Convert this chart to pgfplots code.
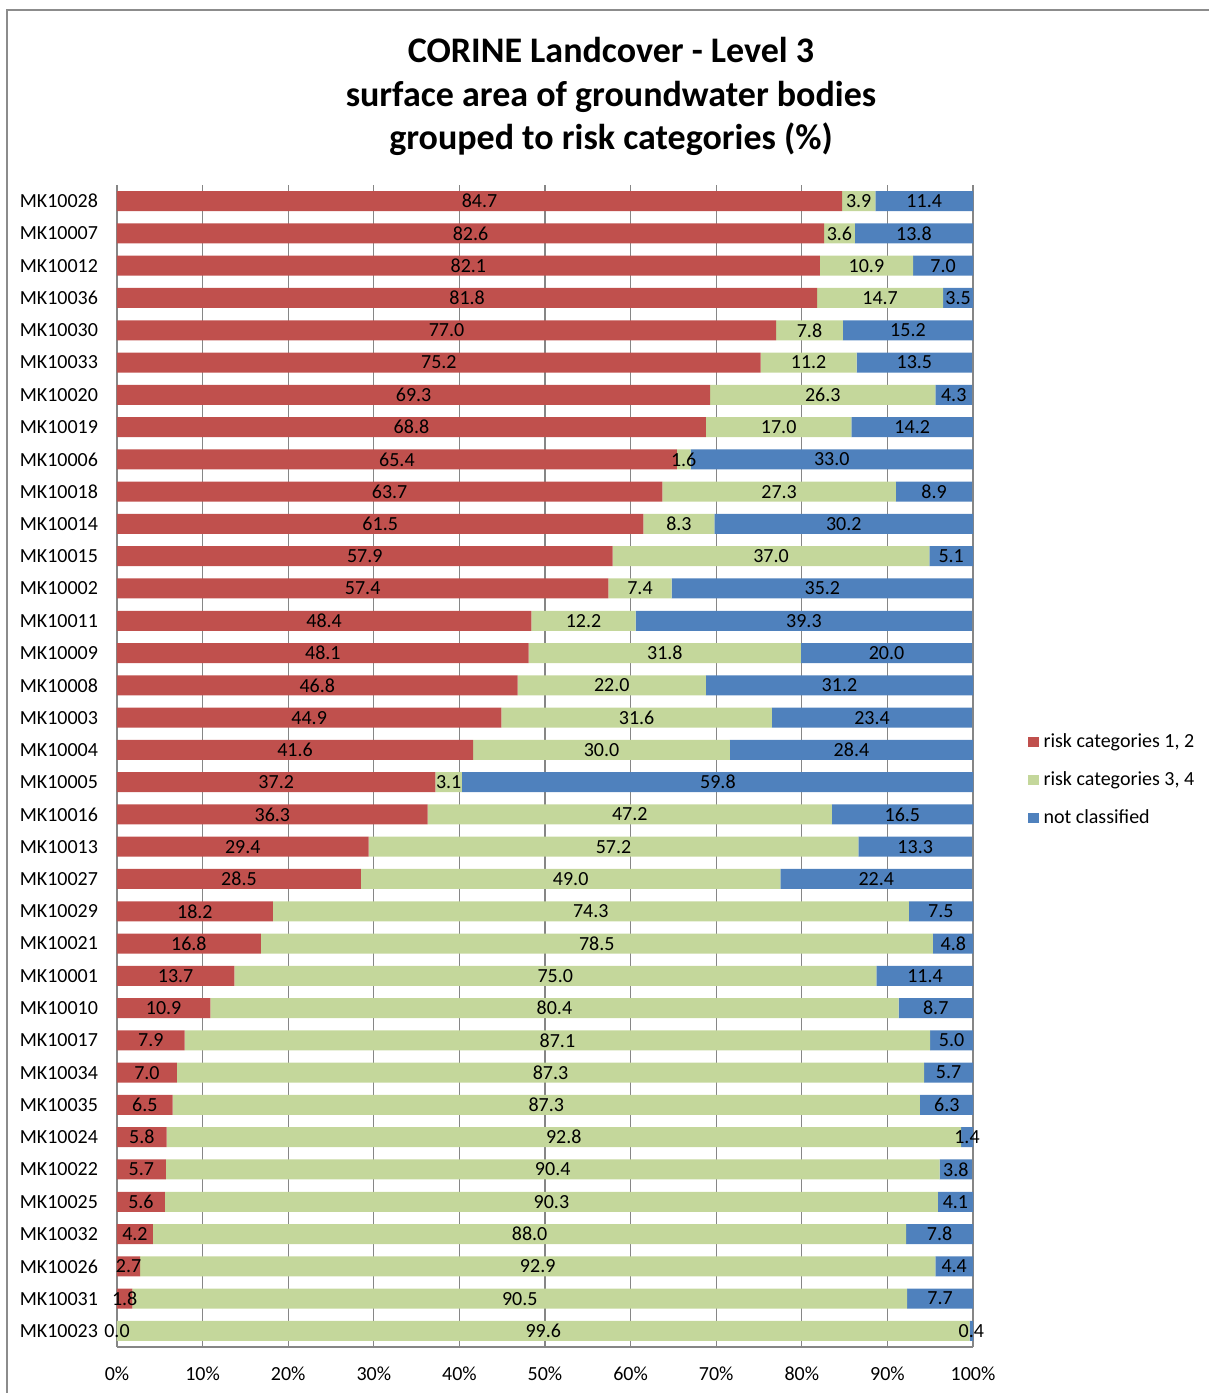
\documentclass[border=0pt]{standalone}
\usepackage{fontspec}
\setmainfont{Carlito}
\usepackage{pgfplots}
\usepackage{pgfplotstable}
\pgfplotsset{compat=1.18}

\definecolor{riskA}{HTML}{C0504D}
\definecolor{riskB}{HTML}{C4D79B}
\definecolor{unclass}{HTML}{4F81BD}
\definecolor{gridgrey}{HTML}{868686}
\definecolor{framegrey}{HTML}{8C8C8C}

% share of each groundwater body (%): r = risk cat. 1,2; g = risk cat. 3,4; b = not classified
\pgfplotstableread{
name    r     g     b
MK10028 84.7  3.9  11.4
MK10007 82.6  3.6  13.8
MK10012 82.1 10.9   7.0
MK10036 81.8 14.7   3.5
MK10030 77.0  7.8  15.2
MK10033 75.2 11.2  13.5
MK10020 69.3 26.3   4.3
MK10019 68.8 17.0  14.2
MK10006 65.4  1.6  33.0
MK10018 63.7 27.3   8.9
MK10014 61.5  8.3  30.2
MK10015 57.9 37.0   5.1
MK10002 57.4  7.4  35.2
MK10011 48.4 12.2  39.3
MK10009 48.1 31.8  20.0
MK10008 46.8 22.0  31.2
MK10003 44.9 31.6  23.4
MK10004 41.6 30.0  28.4
MK10005 37.2  3.1  59.8
MK10016 36.3 47.2  16.5
MK10013 29.4 57.2  13.3
MK10027 28.5 49.0  22.4
MK10029 18.2 74.3   7.5
MK10021 16.8 78.5   4.8
MK10001 13.7 75.0  11.4
MK10010 10.9 80.4   8.7
MK10017  7.9 87.1   5.0
MK10034  7.0 87.3   5.7
MK10035  6.5 87.3   6.3
MK10024  5.8 92.8   1.4
MK10022  5.7 90.4   3.8
MK10025  5.6 90.3   4.1
MK10032  4.2 88.0   7.8
MK10026  2.7 92.9   4.4
MK10031  1.8 90.5   7.7
MK10023  0.0 99.6   0.4
}\landcover

% centre of each segment, where its value label goes
\pgfplotstablecreatecol[create col/expr={\thisrow{r}/2}]{rm}\landcover
\pgfplotstablecreatecol[create col/expr={\thisrow{r}+\thisrow{g}/2}]{gm}\landcover
\pgfplotstablecreatecol[create col/expr={\thisrow{r}+\thisrow{g}+\thisrow{b}/2}]{bm}\landcover

\pgfplotsset{
  landframe/.style={
    scale only axis, width=428pt, height=581pt,
    xmin=0, xmax=100, ymin=-0.5, ymax=35.5, y dir=reverse,
    /pgf/number format/assume math mode=true,
  },
}

\begin{document}
\begin{tikzpicture}
\path[use as bounding box] (-58.5pt,-23pt) rectangle (546pt,673.5pt);
\draw[framegrey, line width=1pt] (-55pt,-40pt) -- (-55pt,668.5pt) -- (560pt,668.5pt);

\begin{axis}[landframe,
  xbar stacked, bar width=0.62,
  axis x line*=bottom, axis y line*=left,
  axis line style={gridgrey, line width=0.6pt},
  xmajorgrids, grid style={gridgrey, line width=0.6pt},
  major tick length=0pt,
  xtick={0,10,...,100},
  xticklabel={\pgfmathprintnumber{\tick}\%},
  xticklabel style={yshift=-6.5pt},
  ytick={0,...,35},
  yticklabels from table={\landcover}{name},
  yticklabel style={xshift=-6pt},
  tick label style={font=\fontsize{10}{12}\selectfont, black},
  legend style={at={(1.064,0.488)}, anchor=west, draw=none, fill=none,
    font=\fontsize{10}{12}\selectfont, row sep=7.6pt, inner sep=0pt,
    nodes={inner sep=1.5pt},
    /tikz/every odd column/.append style={column sep=1pt}},
  legend cell align=left,
  legend image code/.code={\fill[#1, draw=none] (0pt,-2.6pt) rectangle (5.2pt,2.6pt);},
]
\addplot[fill=riskA, draw=none] table[x=r, y expr=\coordindex]{\landcover};
\addlegendentry{risk categories 1, 2}
\addplot[fill=riskB, draw=none] table[x=g, y expr=\coordindex]{\landcover};
\addlegendentry{risk categories 3, 4}
\addplot[fill=unclass, draw=none] table[x=b, y expr=\coordindex]{\landcover};
\addlegendentry{not classified}
\end{axis}

% value labels, centred on their segments
\begin{axis}[landframe, hide axis,
  nodes near coords={\pgfmathprintnumber[fixed, fixed zerofill, precision=1]{\pgfplotspointmeta}},
  every node near coord/.append style={anchor=center, inner sep=0pt,
    font=\fontsize{10}{12}\selectfont, text=black},
  point meta=explicit,
]
\addplot[only marks, mark=none] table[x=rm, y expr=\coordindex, meta=r]{\landcover};
\addplot[only marks, mark=none] table[x=gm, y expr=\coordindex, meta=g]{\landcover};
\addplot[only marks, mark=none] table[x=bm, y expr=\coordindex, meta=b]{\landcover};
\end{axis}

\node[font=\bfseries\fontsize{18}{21.75}\selectfont, align=center]
  at (247pt,625.2pt)
  {CORINE Landcover - Level 3\\surface area of groundwater bodies\\grouped to risk categories (\%)};
\end{tikzpicture}
\end{document}
